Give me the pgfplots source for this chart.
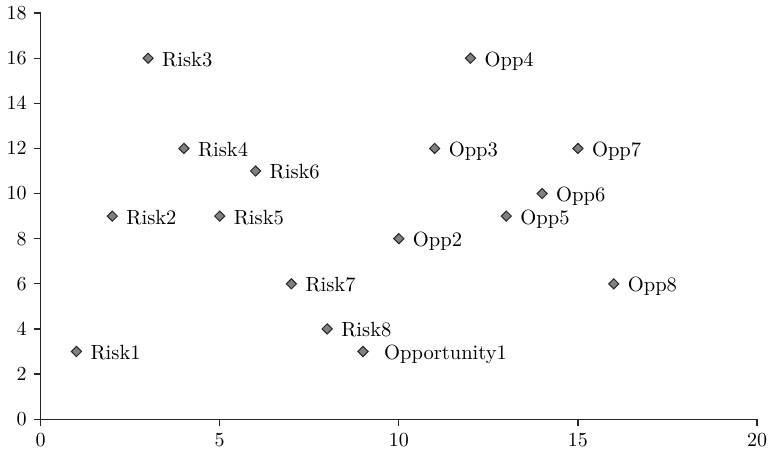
\documentclass[border=0pt]{standalone}
\usepackage{pgfplots}
\pgfplotsset{compat=1.18}

\pgfplotsset{
    riskpt/.style={
        only marks,
        mark=square*,
        mark size=1.8pt,
        mark options={rotate=45, fill=black!50, draw=black!85, line width=0.5pt},
        point meta=explicit symbolic,
        nodes near coords,
        nodes near coords style={anchor=base west, xshift=#1, yshift=-4pt,
            font=\fontsize{10.3}{12}\selectfont, text=black},
    },
}

\begin{document}
\begin{tikzpicture}
\begin{axis}[
    scale only axis,
    width=359pt, height=203.5pt,
    xmin=0, xmax=20, ymin=0, ymax=18,
    xtick={0,5,...,20}, ytick={0,2,...,18},
    axis x line*=bottom, axis y line*=left,
    axis line style={-, line width=0.6pt, black!85},
    tick style={line width=0.6pt, black!85},
    tick align=outside,
    major tick length=3.5pt,
    tick label style={font=\fontsize{10.3}{12}\selectfont},
    xticklabel style={inner xsep=1pt},
    clip=false,
]
\addplot[riskpt=3.5pt] table[meta=label] {
x  y  label
1  3  Risk1
2  9  Risk2
3  16 Risk3
4  12 Risk4
5  9  Risk5
6  11 Risk6
7  6  Risk7
8  4  Risk8
10 8  Opp2
11 12 Opp3
12 16 Opp4
13 9  Opp5
14 10 Opp6
15 12 Opp7
16 6  Opp8
};
\addplot[riskpt=7pt] table[meta=label] {
x  y  label
9  3  Opportunity1
};
\end{axis}
\end{tikzpicture}
\end{document}
